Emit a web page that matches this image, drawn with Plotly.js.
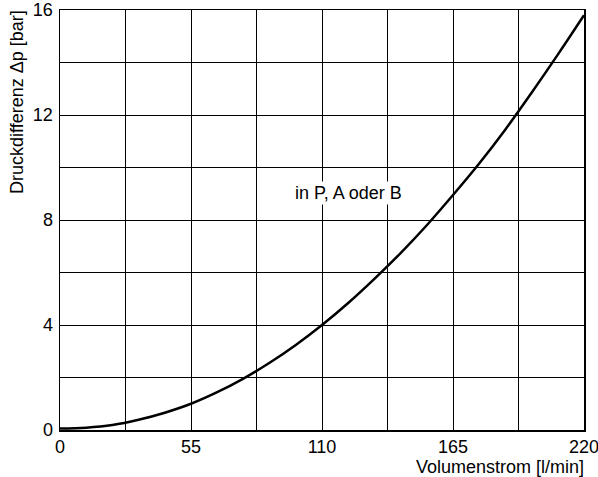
<!DOCTYPE html>
<html>
<head>
<meta charset="utf-8">
<script src="https://cdn.plot.ly/plotly-3.0.1.min.js"></script>
<style>html,body{margin:0;padding:0;background:#fff;}#chart{width:598px;height:477px;}</style>
</head>
<body>
<div id="chart"></div>
<script>
// Data
const flowValues = [0, 11, 22, 33, 44, 55, 66, 77, 88, 99, 110, 121, 132, 143, 154, 165, 176, 187, 198, 209, 220];
const pressureValues = [0.06, 0.09, 0.19, 0.39, 0.66, 1.0, 1.44, 1.96, 2.56, 3.24, 4.0, 4.84, 5.76, 6.74, 7.8, 8.95, 10.15, 11.45, 12.85, 14.3, 15.8];
const xTickVals = [0, 55, 110, 165, 220];
const xTickText = ['0', '55', '110', '165', '220'];
const yTickVals = [0, 4, 8, 12, 16];
const yTickText = ['0', '4', '8', '12', '16'];
const curveLabel = 'in P, A oder B';
const xTitle = 'Volumenstrom [l/min]';
const yTitle = 'Druckdifferenz Δp [bar]';

const font = 'Liberation Sans, Arial, Helvetica, sans-serif';
const fs = 18;

const trace = {
  x: flowValues, y: pressureValues, type: 'scatter', mode: 'lines',
  line: {color: '#000', width: 2.5, shape: 'spline'}, hoverinfo: 'none'
};

const layout = {
  width: 598, height: 477,
  margin: {l: 60, r: 14, t: 10, b: 47},
  paper_bgcolor: '#fff', plot_bgcolor: '#fff',
  showlegend: false,
  font: {family: font, size: fs, color: '#000'},
  xaxis: {
    range: [0, 220], tickvals: xTickVals, ticktext: xTickText,
    showgrid: true, gridcolor: '#000', gridwidth: 1,
    minor: {dtick: 27.5, tick0: 0, showgrid: true, gridcolor: '#000', gridwidth: 1},
    showline: true, mirror: true, linecolor: '#000', linewidth: 1.5,
    zeroline: false, ticks: '',
    ticklabeloverflow: 'allow',
    tickfont: {family: font, size: fs, color: '#000'}
  },
  yaxis: {
    range: [0, 16], tickvals: yTickVals, ticktext: yTickText,
    showgrid: true, gridcolor: '#000', gridwidth: 1,
    minor: {dtick: 2, tick0: 0, showgrid: true, gridcolor: '#000', gridwidth: 1},
    showline: true, mirror: true, linecolor: '#000', linewidth: 1.5,
    zeroline: false, ticks: 'outside', ticklen: 2, tickcolor: 'rgba(0,0,0,0)',
    ticklabeloverflow: 'allow',
    tickfont: {family: font, size: fs, color: '#000'}
  },
  annotations: [
    {text: curveLabel, x: 121.3, y: 9.03, xref: 'x', yref: 'y', showarrow: false,
     bgcolor: '#fff', borderpad: 1, font: {family: font, size: fs, color: '#000'}},
    {text: xTitle, x: 1, y: 0, xref: 'paper', yref: 'paper', xanchor: 'right', yanchor: 'top',
     yshift: -25, xshift: 2, showarrow: false, font: {family: font, size: fs, color: '#000'}},
    {text: yTitle, x: 0, y: 1, xref: 'paper', yref: 'paper', xanchor: 'right', yanchor: 'top',
     xshift: -31, yshift: 2, textangle: -90, showarrow: false, font: {family: font, size: fs, color: '#000'}}
  ]
};

Plotly.newPlot('chart', [trace], layout, {displayModeBar: false, staticPlot: true});
</script>
</body>
</html>
